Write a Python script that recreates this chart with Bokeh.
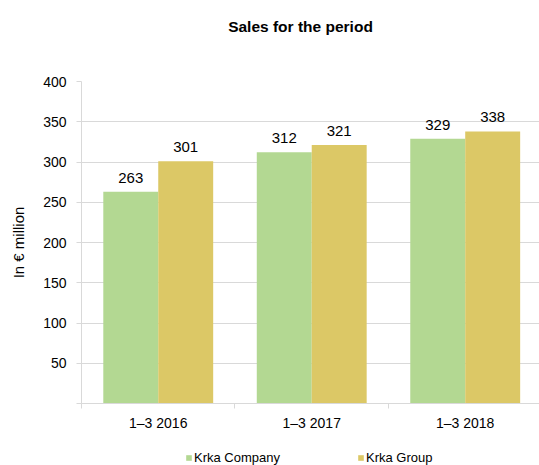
from bokeh.plotting import figure
from bokeh.layouts import column
from bokeh.models import (Range1d, FixedTicker, ColumnDataSource, Legend, LegendItem, LabelSet, Label)
from bokeh.core.properties import value
from bokeh.embed import file_html
from bokeh.resources import INLINE

periods = ["1–3 2016", "1–3 2017", "1–3 2018"]
company = [263, 312, 329]
group = [301, 321, 338]
series_names = ["Krka Company", "Krka Group"]
colors = ["#B3D892", "#DCC866"]
y_ticks = [50, 100, 150, 200, 250, 300, 350, 400]
title_text = "Sales for the period"

FONT = "Liberation Sans"
bw = 0.358
W = 539

centers = [i + 0.5 for i in range(len(periods))]
src_c = ColumnDataSource(dict(x=[c - bw / 2 for c in centers], top=company, lab=[str(v) for v in company]))
src_g = ColumnDataSource(dict(x=[c + bw / 2 for c in centers], top=group, lab=[str(v) for v in group]))


def blank(h, yr=(0, 1)):
    f = figure(width=W, height=h, output_backend="svg", toolbar_location=None,
               x_range=Range1d(0, 1), y_range=Range1d(*yr),
               x_axis_type=None, y_axis_type=None)
    f.min_border = 0
    f.outline_line_color = None
    f.grid.grid_line_color = None
    return f


# header with title
head = blank(40)
head.add_layout(Label(x=219, y=14, x_units="screen", y_units="screen", text=title_text,
                      text_font=FONT, text_font_size="15.5px", text_font_style="bold",
                      text_align="center", text_baseline="middle", text_color="#000000"))

# main chart (plot area is cut by the right edge, as in the reference)
p = figure(width=W, height=400, output_backend="svg", toolbar_location=None,
           x_range=Range1d(0, 2.984), y_range=Range1d(0, 400))
p.min_border_left = 81
p.min_border_right = 0
p.min_border_top = 41
p.min_border_bottom = 37
p.outline_line_color = None

r1 = p.vbar(x="x", top="top", width=bw, source=src_c, fill_color=colors[0], line_color=None)
r2 = p.vbar(x="x", top="top", width=bw, source=src_g, fill_color=colors[1], line_color=None)

for s in (src_c, src_g):
    p.add_layout(LabelSet(x="x", y="top", text="lab", source=s, text_align="center",
                          text_baseline="alphabetic", y_offset=9, text_font=value(FONT),
                          text_font_size=value("15px"), text_color="#000000"))

xa = p.xaxis[0]
xa.ticker = FixedTicker(ticks=centers, minor_ticks=list(range(len(periods) + 1)))
xa.major_label_overrides = {c: lab for c, lab in zip(centers, periods)}
xa.major_tick_line_color = None
xa.major_tick_in = 0
xa.major_tick_out = 5
xa.minor_tick_in = 0
xa.minor_tick_out = 5
xa.minor_tick_line_color = "#d9d9d9"
xa.axis_line_color = "#d9d9d9"
xa.major_label_text_font = FONT
xa.major_label_text_font_size = "14px"
xa.major_label_text_color = "#000000"
xa.major_label_standoff = 6

ya = p.yaxis[0]
ya.ticker = FixedTicker(ticks=[0] + y_ticks)
ya.major_label_overrides = {0: ""}
ya.axis_line_color = "#d9d9d9"
ya.major_tick_line_color = "#d9d9d9"
ya.major_tick_in = 0
ya.major_tick_out = 5
ya.minor_tick_line_color = None
ya.major_label_text_font = FONT
ya.major_label_text_font_size = "14px"
ya.major_label_text_color = "#000000"
ya.major_label_standoff = 10
ya.axis_label = "In € million"
ya.axis_label_text_font = FONT
ya.axis_label_text_font_size = "15px"
ya.axis_label_text_font_style = "normal"
ya.axis_label_text_color = "#000000"
ya.axis_label_standoff = 13

p.xgrid.grid_line_color = None
p.ygrid.ticker = FixedTicker(ticks=y_ticks)
p.ygrid.grid_line_color = "#d9d9d9"

# legend strip (bars drawn off-range so only the legend shows)
leg = blank(25, yr=(1000, 1001))
lr1 = leg.vbar(x="x", top="top", width=bw, source=src_c, fill_color=colors[0], line_color=None)
lr2 = leg.vbar(x="x", top="top", width=bw, source=src_g, fill_color=colors[1], line_color=None)
legend = Legend(items=[LegendItem(label=series_names[0], renderers=[lr1]),
                       LegendItem(label=series_names[1], renderers=[lr2])],
                orientation="horizontal", location=(104, 0))
legend.glyph_width = 7
legend.glyph_height = 7
legend.label_standoff = 2
legend.label_width = 0
legend.spacing = 77
legend.label_text_font = FONT
legend.label_text_font_size = "13px"
legend.label_text_color = "#000000"
legend.border_line_color = None
legend.background_fill_alpha = 0
legend.padding = 0
legend.margin = 0
leg.add_layout(legend, "center")

layout = column(head, p, leg, spacing=0)
open("out.html", "w").write(file_html(layout, INLINE))
